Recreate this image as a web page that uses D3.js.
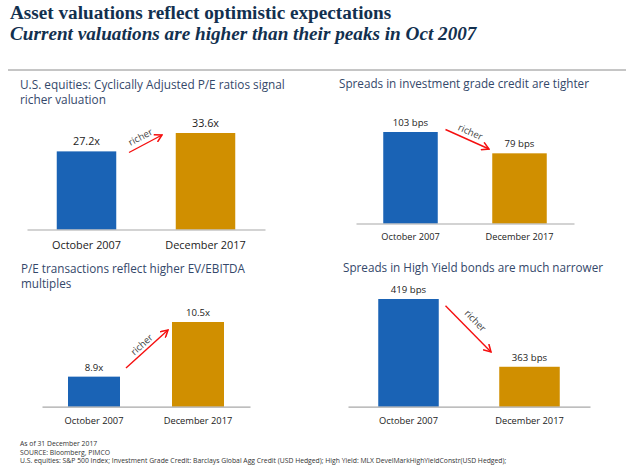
<!DOCTYPE html>
<html>
<head>
<meta charset="utf-8">
<script src="https://cdn.jsdelivr.net/npm/d3@7"></script>
<style>
  html, body { margin: 0; padding: 0; background: #fff; }
  text { font-family: "Open Sans", sans-serif; }
</style>
</head>
<body>
<div id="chart"></div>
<script>
// values
const categories = ["October 2007", "December 2017"];
const equityValues = [27.2, 33.6];
const equityLabels = ["27.2x", "33.6x"];
const creditValues = [103, 79];
const creditLabels = ["103 bps", "79 bps"];
const peValues = [8.9, 10.5];
const peLabels = ["8.9x", "10.5x"];
const highYieldValues = [419, 363];
const highYieldLabels = ["419 bps", "363 bps"];
const barColors = ["#1a63b5", "#d08f00"];

const footnotes = [
  "As of 31 December 2017",
  "SOURCE: Bloomberg, PIMCO",
  "U.S. equities: S&P 500 Index; Investment Grade Credit: Barclays Global Agg Credit (USD Hedged); High Yield: MLX DevelMarkHighYieldConstr(USD Hedged);"
];

const svg = d3.select("#chart").append("svg")
  .attr("width", 628)
  .attr("height", 467);

svg.append("defs").append("marker")
  .attr("id", "arrow")
  .attr("viewBox", "0 0 10 10")
  .attr("refX", 9)
  .attr("refY", 5)
  .attr("markerWidth", 9)
  .attr("markerHeight", 9)
  .attr("markerUnits", "userSpaceOnUse")
  .attr("orient", "auto")
  .append("path")
  .attr("d", "M1,0.5 L9,5 L1,9.5")
  .attr("fill", "none")
  .attr("stroke", "#f50f0f")
  .attr("stroke-width", 1.7);

// title block
svg.append("text")
  .attr("x", 10).attr("y", 19)
  .style("font-family", "'Liberation Serif', serif")
  .style("font-weight", "bold")
  .style("font-size", "19.2px")
  .attr("fill", "#12304f")
  .text("Asset valuations reflect optimistic expectations");
svg.append("text")
  .attr("x", 10).attr("y", 39.5)
  .style("font-family", "'Liberation Serif', serif")
  .style("font-weight", "bold")
  .style("font-style", "italic")
  .style("font-size", "19.2px")
  .attr("fill", "#12304f")
  .text("Current valuations are higher than their peaks in Oct 2007");

svg.append("line")
  .attr("x1", 8).attr("x2", 626)
  .attr("y1", 70).attr("y2", 70)
  .attr("stroke", "#8c8c8c")
  .attr("stroke-width", 1);

function drawPanel(p) {
  const x = d3.scaleBand()
    .domain(categories)
    .range([p.left, p.right])
    .paddingInner(0.5)
    .paddingOuter(0.25);

  const y = d3.scaleLinear()
    .domain(p.domain)
    .range([p.base, p.top]);

  const g = svg.append("g");

  // panel heading
  p.title.forEach((line, i) => {
    g.append("text")
      .attr("x", p.titleX)
      .attr("y", p.titleY + i * 14.6)
      .style("font-size", p.titleSize)
      .attr("fill", "#34486a")
      .text(line);
  });

  g.selectAll(".bar")
    .data(p.values)
    .enter().append("rect")
    .attr("class", "bar")
    .attr("x", (d, i) => x(categories[i]))
    .attr("y", d => y(d))
    .attr("width", x.bandwidth())
    .attr("height", d => p.base - y(d))
    .attr("fill", (d, i) => barColors[i]);

  g.selectAll(".value")
    .data(p.values)
    .enter().append("text")
    .attr("class", "value")
    .attr("x", (d, i) => x(categories[i]) + x.bandwidth() / 2)
    .attr("y", d => y(d) - 6)
    .attr("text-anchor", "middle")
    .style("font-size", p.valueSize)
    .attr("fill", "#222")
    .text((d, i) => p.labels[i]);

  // axis
  const axis = g.append("g")
    .attr("transform", "translate(0," + p.base + ")")
    .call(d3.axisBottom(x).tickSize(0).tickPadding(p.tickPad));
  axis.select(".domain").attr("stroke", "#a8a8a8").attr("stroke-width", 1.2);
  axis.selectAll("text")
    .style("font-family", "'Open Sans', sans-serif")
    .style("font-size", p.tickSize)
    .attr("fill", "#222");

  // red "richer" arrow
  const [x1, y1, x2, y2] = p.arrow;
  g.append("line")
    .attr("x1", x1).attr("y1", y1)
    .attr("x2", x2).attr("y2", y2)
    .attr("stroke", "#f50f0f")
    .attr("stroke-width", 1.4)
    .attr("marker-end", "url(#arrow)");
  const angle = Math.atan2(y2 - y1, x2 - x1) * 180 / Math.PI;
  g.append("text")
    .attr("transform", "translate(" + p.richer[0] + "," + p.richer[1] + ") rotate(" + angle + ")")
    .attr("text-anchor", "middle")
    .style("font-size", "9.5px")
    .attr("fill", "#444")
    .text("richer");
}

drawPanel({
  title: ["U.S. equities: Cyclically Adjusted P/E ratios signal", "richer valuation"],
  titleX: 20, titleY: 89, titleSize: "11.8px",
  values: equityValues, labels: equityLabels, domain: [0, 33.6], valueSize: "10.8px",
  left: 27, right: 265, base: 229.5, top: 133, tickPad: 12, tickSize: "10.9px",
  arrow: [129, 152.5, 162, 135], richer: [142, 140]
});
drawPanel({
  title: ["Spreads in investment grade credit are tighter"],
  titleX: 339, titleY: 88, titleSize: "11.7px",
  values: creditValues, labels: creditLabels, domain: [0, 103], valueSize: "9.6px",
  left: 356, right: 574, base: 223.5, top: 132, tickPad: 10, tickSize: "9.2px",
  arrow: [445.5, 129.5, 489, 149], richer: [469, 135]
});
drawPanel({
  title: ["P/E transactions reflect higher EV/EBITDA", "multiples"],
  titleX: 21, titleY: 273, titleSize: "11.7px",
  values: peValues, labels: peLabels, domain: [8.02, 10.5], valueSize: "9.6px",
  left: 42, right: 250, base: 406.7, top: 322, tickPad: 11, tickSize: "9.3px",
  arrow: [126, 368, 168, 330], richer: [144, 347]
});
drawPanel({
  title: ["Spreads in High Yield bonds are much narrower"],
  titleX: 343, titleY: 272, titleSize: "11.7px",
  values: highYieldValues, labels: highYieldLabels, domain: [330, 419], valueSize: "9.6px",
  left: 348, right: 590, base: 406.7, top: 299, tickPad: 11, tickSize: "9.3px",
  arrow: [445.5, 305.7, 491, 352], richer: [473, 323]
});

// footnotes
footnotes.forEach((line, i) => {
  svg.append("text")
    .attr("x", 20)
    .attr("y", 446 + i * 8.5)
    .style("font-size", "6.8px")
    .attr("fill", "#333")
    .text(line);
});
</script>
</body>
</html>
